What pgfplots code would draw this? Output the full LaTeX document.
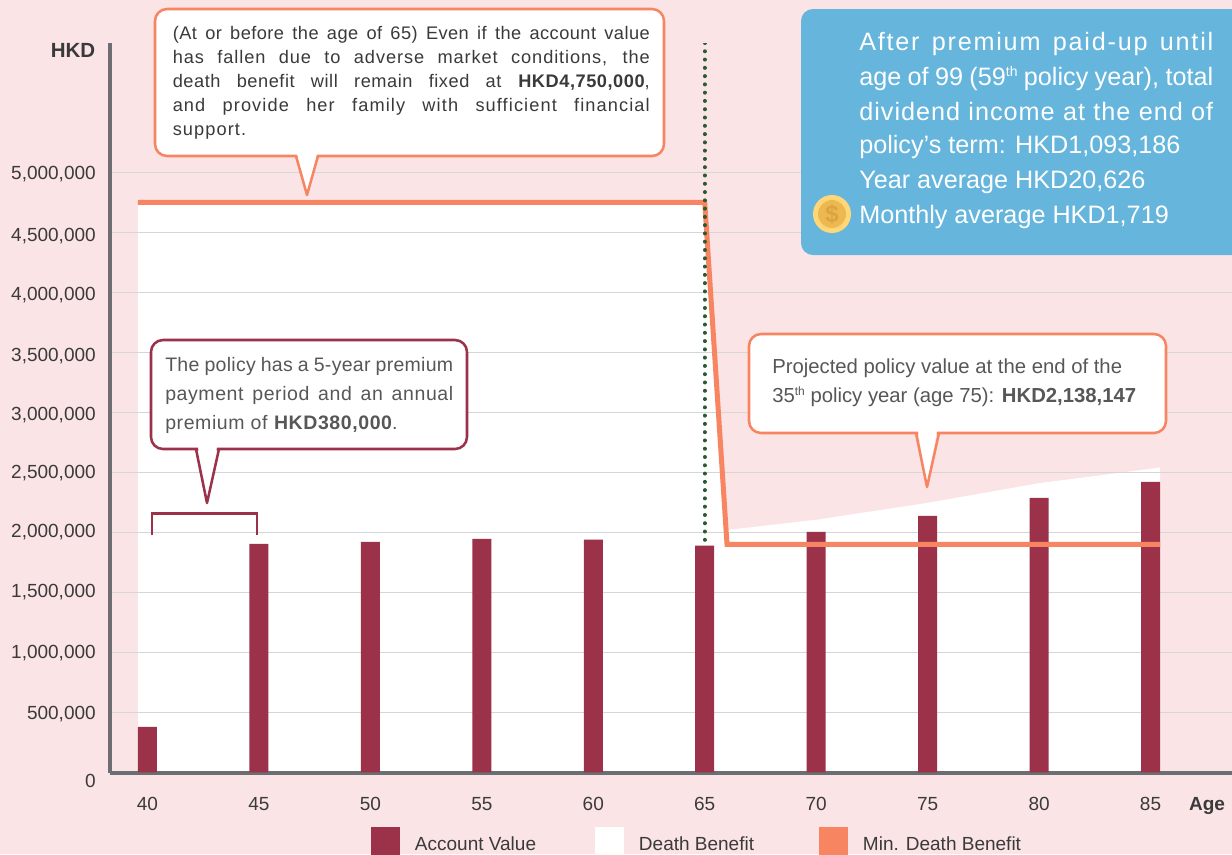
\documentclass[border=0pt]{standalone}
\usepackage{fontspec}
\setmainfont{Liberation Sans}
\usepackage{pgfplots}
\pgfplotsset{compat=1.18}
\newdimen\pxu \pxu=0.75pt
\definecolor{bgpink}{HTML}{FBE4E6}
\definecolor{barred}{HTML}{9B3249}
\definecolor{orangeline}{HTML}{F78562}
\definecolor{axisgray}{HTML}{6D6E71}
\definecolor{gridgray}{HTML}{D6D6D6}
\definecolor{boxblue}{HTML}{65B5DC}
\definecolor{txt}{HTML}{3A3A3A}
\definecolor{dotgreen}{HTML}{2B5A2E}
\definecolor{coinout}{HTML}{FFD778}
\definecolor{coinin}{HTML}{EDB850}
\definecolor{coind}{HTML}{D9A441}
\newcommand\TL[2]{\smash{\raisebox{#1\pxu}{#2}}}
\newcommand\JL[2]{\makebox[#1\pxu][s]{#2}}
\newcommand\fpx[1]{\fontsize{#1\pxu}{#1\pxu}\selectfont}
\newcommand\LS[1]{\addfontfeature{LetterSpace=#1}}
\newcommand\Sup[2]{\raisebox{#1\pxu}{\fpx{#2}th}}
\newcommand\LT[1]{\makebox[195\pxu][l]{\hspace{15\pxu}\raisebox{3\pxu}{#1}}}
\begin{document}
\begin{tikzpicture}
\begin{scope}
\clip (0,0) rectangle (924pt,-640.5pt);
\fill[bgpink] (0,0) rectangle (924pt,-640.5pt);
\begin{axis}[
  at={(82.5pt,-579.75pt)}, anchor=south west,
  scale only axis, width=841.5pt, height=547.5pt,
  xmin=38.318, xmax=88.656, ymin=-5000, ymax=6078000,
  hide axis,
]
\addplot[fill=white, draw=none]
  coordinates {(39.57,0)(39.57,4750000)(65,4750000)(66,2020000)(70,2105000)(75,2246000)(80,2410000)(85.43,2540000)(85.43,0)} -- cycle;
\end{axis}
\begin{axis}[
  at={(82.5pt,-579.75pt)}, anchor=south west,
  scale only axis, width=841.5pt, height=547.5pt,
  xmin=38.318, xmax=88.656, ymin=-5000, ymax=6078000,
  axis lines=left, axis line style={draw=axisgray, line width=3pt, -},
  major tick length=0pt,
  xtick={40,45,50,55,60,65,70,75,80,85},
  ytick={0,500000,1000000,1500000,2000000,2500000,3000000,3500000,4000000,4500000,5000000},
  scaled y ticks=false,
  ymajorgrids, grid style={draw=gridgray, line width=0.75pt},
  /pgf/number format/assume math mode=true,
  yticklabels={\TL{-15}{0},\TL{-7}{500,000},\TL{-6}{1,000,000},\TL{-5}{1,500,000},\TL{-5}{2,000,000},\TL{-6}{2,500,000},\TL{-8}{3,000,000},\TL{-9}{3,500,000},\TL{-8}{4,000,000},\TL{-9}{4,500,000},\TL{-7}{5,000,000}},
  ticklabel style={font=\fpx{19}, text=txt, inner sep=0pt},
  yticklabel style={anchor=east, xshift=-14\pxu},
  xticklabel style={anchor=north, yshift=-24\pxu},
  xlabel={\textbf{Age}}, ylabel={\textbf{HKD}},
  every axis x label/.style={at={(axis description cs:0.9777,0)}, anchor=base, yshift=-37\pxu, font=\fpx{19}, text=txt},
  every axis y label/.style={at={(axis description cs:0,0.98)}, anchor=base east, xshift=-15\pxu, font=\fpx{20.5}, text=txt, xshift=5\pxu},
  legend columns=3,
  legend cell align=left,
  legend style={at={(rel axis cs:0.2326,-0.074)}, anchor=north west, draw=none, fill=none, inner sep=0pt, outer sep=0pt, font=\fpx{19}, text=txt,
    /tikz/every node/.append style={inner sep=0pt}},
]
\addplot[ybar, bar width=14.25pt, fill=barred, draw=none,
  legend image code/.code={\fill[barred, draw=none] (0pt,-8pt) rectangle (21.75pt,14.25pt);}]
  coordinates {(40,380000)(45,1905000)(50,1920000)(55,1945000)(60,1940000)(65,1890000)(70,2005000)(75,2138147)(80,2288000)(85,2420000)};
\addlegendentry{\LT{Account Value}}
\addlegendimage{legend image code/.code={\fill[white, draw=none] (0pt,-8pt) rectangle (21.75pt,14.25pt);}}
\addlegendentry{\LT{Death Benefit}}
\addplot[draw=orangeline, line width=3.75pt, line join=miter,
  legend image code/.code={\fill[orangeline, draw=none] (0pt,-8pt) rectangle (21.75pt,14.25pt);}]
  coordinates {(39.57,4750000)(65,4750000)(66,1900000)(85.43,1900000)};
\addlegendentry{\LT{Min. Death Benefit}}
\addplot[forget plot, draw=dotgreen, line width=3pt, line cap=round, dash pattern=on 0.01pt off 6.2pt]
  coordinates {(65,6078000)(65,1890000)};
\end{axis}
\begin{scope}[x=0.75pt,y=-0.75pt]
  % callout 1
  \draw[orangeline, line width=1.9pt, fill=white, rounded corners=9pt] (155,9) rectangle (664,156);
  \fill[white] (297,154) -- (307,195) -- (317,154) -- cycle;
  \draw[orangeline, line width=1.9pt, line join=round] (296,156) -- (307,195) -- (318,156);
  \begin{scope}[every node/.style={anchor=base west, inner sep=0pt, text=txt, font=\fpx{18.2}}]
  \node at (172.5,39) {\JL{477}{\LS{2.5}(At or before the age of 65) Even if the account value}};
  \node at (172.5,63) {\JL{477}{\LS{5}has fallen due to adverse market conditions, the}};
  \node at (172.5,87) {\JL{477}{\LS{3}death benefit will remain fixed at \textbf{\LS{3}HKD4,750,000},}};
  \node at (172.5,111) {\JL{477}{\LS{6}and provide her family with sufficient financial}};
  \node at (172.5,135) {\LS{6}support.};
  \end{scope}
  % callout 2
  \draw[barred, line width=1.9pt, fill=white, rounded corners=9pt] (151,340) rectangle (467,449);
  \fill[white] (198,447) -- (207,502) -- (217,447) -- cycle;
  \draw[barred, line width=1.9pt, line join=round] (196,449) -- (207,503) -- (219,449);
  \draw[barred, line width=2pt] (152,535) -- (152,513.5) -- (257,513.5) -- (257,535);
  \begin{scope}[every node/.style={anchor=base west, inner sep=0pt, text=txt!85, font=\fpx{19.5}}]
  \node at (165,371) {\JL{288}{\LS{1.5}The policy has a 5-year premium}};
  \node at (165,400) {\JL{288}{\LS{3}payment period and an annual}};
  \node at (165,429) {\LS{3}premium of \textbf{\LS{3}HKD380,000}.};
  \end{scope}
  % callout 3
  \draw[orangeline, line width=1.9pt, fill=white, rounded corners=9pt] (749,334) rectangle (1166,433);
  \fill[white] (918,431) -- (927,486) -- (937,431) -- cycle;
  \draw[orangeline, line width=1.9pt, line join=round] (916,433) -- (927,487) -- (939,433);
  \begin{scope}[every node/.style={anchor=base west, inner sep=0pt, text=txt!85, font=\fpx{20.3}}]
  \node at (772,373) {Projected policy value at the end of the};
  \node at (772,402) {35\Sup{7}{12} policy year (age 75): \textbf{HKD2,138,147}};
  \end{scope}
  % blue box
  \fill[boxblue, rounded corners=9pt] (801,9) rectangle (1245,255);
  \begin{scope}[every node/.style={anchor=base west, inner sep=0pt, text=white, font=\fpx{25.2}}]
  \node at (859,50) {\JL{354}{\LS{7}After premium paid-up until}};
  \node at (859,85) {\JL{354}{age of 99 (59\Sup{9}{14} policy year), total}};
  \node at (859,120) {\JL{354}{\LS{4}dividend income at the end of}};
  \node at (859,153.5) {policy’s term: HKD1,093,186};
  \node at (859,188) {Year average HKD20,626};
  \node at (859,223) {Monthly average HKD1,719};
  \end{scope}
  % coin
  \fill[coinout] (832,214) circle (14.25pt);
  \fill[coinin] (832,214) circle (10.5pt);
  \node[text=coind, inner sep=0pt, font=\fpx{24}\bfseries] at (832,214) {\$};
\end{scope}
\end{scope}
\pgfresetboundingbox
\path[use as bounding box] (0,0) rectangle (924pt,-640.5pt);
\end{tikzpicture}
\end{document}
